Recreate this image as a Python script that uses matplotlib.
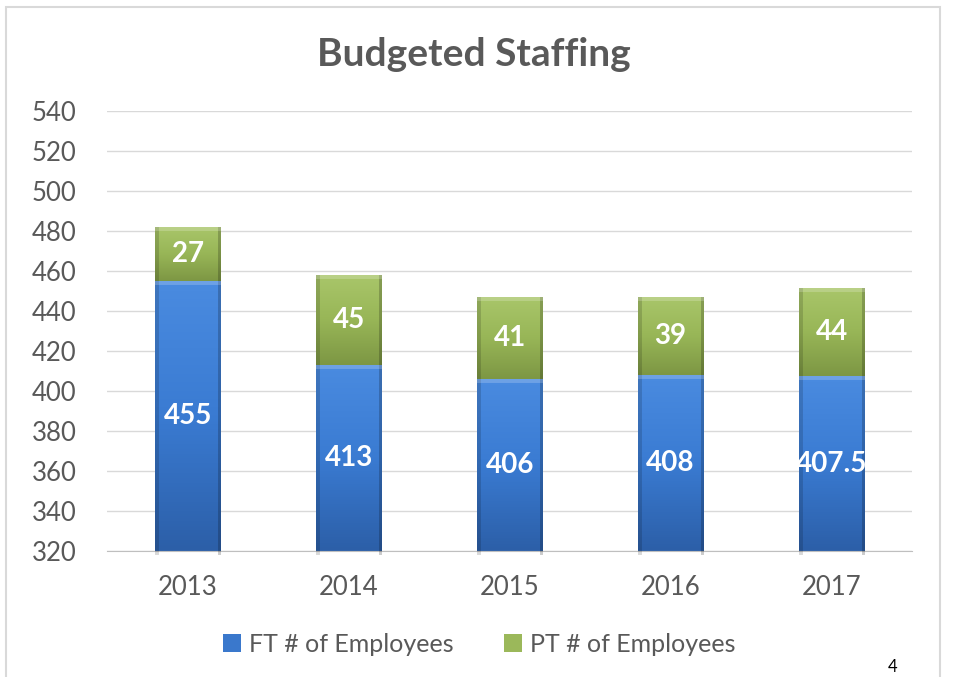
import numpy as np
import matplotlib.pyplot as plt
from matplotlib.patches import Rectangle
from matplotlib.colors import LinearSegmentedColormap

plt.rcParams['font.family'] = ['Lato', 'DejaVu Sans']

years = ['2013', '2014', '2015', '2016', '2017']
ft = [455, 413, 406, 408, 407.5]
pt = [27, 45, 41, 39, 44]
ft_labels = ['455', '413', '406', '408', '407.5']
pt_labels = ['27', '45', '41', '39', '44']

ymin, ymax = 320, 540
grey = '#595959'

fig = plt.figure(figsize=(9.58, 6.77), dpi=100)
ax = fig.add_axes([0.112, 0.186, 0.840, 0.650])

x = np.arange(len(years))
w = 0.41
ft_bars = ax.bar(x, ft, w, color='#3a78cc', label='FT # of Employees', zorder=2)
pt_bars = ax.bar(x, pt, w, bottom=ft, color='#9bb85a', label='PT # of Employees', zorder=2)

# fake the bevel/gradient look of the original with clipped images
blue_cm = LinearSegmentedColormap.from_list('b', ['#2c5fa8', '#3a7bd2', '#4a8be0'])
green_cm = LinearSegmentedColormap.from_list('g', ['#7d9744', '#98b657', '#a9c66a'])
grad = np.linspace(0, 1, 100).reshape(-1, 1)
for bars, cm in [(ft_bars, blue_cm), (pt_bars, green_cm)]:
    for b in bars:
        x0, y0 = b.get_x(), max(b.get_y(), ymin)
        y1 = b.get_y() + b.get_height()
        x1 = x0 + b.get_width()
        im = ax.imshow(grad, cmap=cm, aspect='auto', origin='lower',
                       extent=[x0, x1, y0, y1], zorder=2.5)
        im.set_clip_path(b)
        # darker side edges and light top edge, kept inside the bar
        for xs, a in [(x0, 0.15), (x1, 0.2)]:
            ln, = ax.plot([xs, xs], [y0, y1], color='black', alpha=a, lw=5, zorder=2.6)
            ln.set_clip_path(b)
        ln, = ax.plot([x0, x1], [y1, y1], color='white', alpha=0.2, lw=5, zorder=2.6)
        ln.set_clip_path(b)

for i in range(len(years)):
    ax.text(x[i], (ymin + ft[i]) / 2, ft_labels[i], ha='center', va='center',
            color='white', fontsize=20, fontweight='bold', zorder=3)
    ax.text(x[i], ft[i] + pt[i] / 2, pt_labels[i], ha='center', va='center',
            color='white', fontsize=20, fontweight='bold', zorder=3)

ax.set_xlim(-0.5, len(years) - 0.5)
ax.set_ylim(ymin, ymax)
ax.set_yticks(np.arange(ymin, ymax + 1, 20))
ax.set_xticks(x)
ax.set_xticklabels(years)
ax.tick_params(axis='both', length=0, labelsize=18.5, labelcolor=grey)
ax.tick_params(axis='y', pad=22)
ax.tick_params(axis='x', pad=17)
ax.yaxis.grid(True, color='#d9d9d9', lw=1, zorder=0)
ax.set_axisbelow(True)
for s in ['top', 'right', 'left']:
    ax.spines[s].set_visible(False)
ax.spines['bottom'].set_color('#bfbfbf')

fig.text(0.495, 0.919, 'Budgeted Staffing', ha='center', va='center',
         fontsize=28, fontweight='bold', color=grey)

fig.legend(handles=[ft_bars, pt_bars], loc='center', bbox_to_anchor=(0.5, 0.048),
           ncol=2, frameon=False, fontsize=18, labelcolor=grey,
           handlelength=0.75, handleheight=0.75, handletextpad=0.3, columnspacing=2.0)

# slide frame and page number
fig.patches.append(Rectangle((6 / 958, -0.05), 934 / 958, 1.05 - 7 / 677,
                             transform=fig.transFigure, fill=False,
                             edgecolor='#d9d9d9', lw=1.5))
fig.text(893 / 958, 1 - 667 / 677, '4', ha='center', va='center', fontsize=12, color='black')

fig.savefig('out.png', dpi=100)
